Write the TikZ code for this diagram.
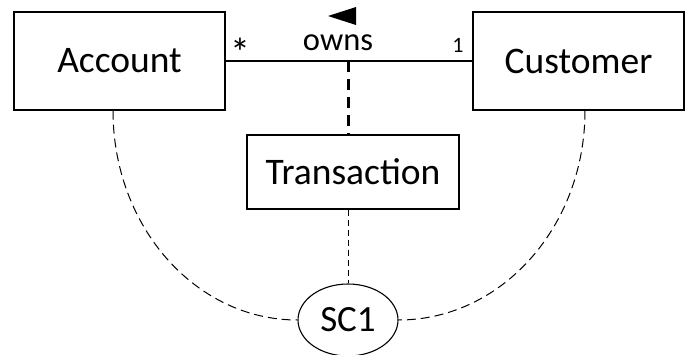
\documentclass[tikz,border=0pt]{standalone}
\usepackage{fontspec}
\setmainfont{Carlito}
\usetikzlibrary{shapes.geometric}

\tikzset{
  classbox/.style={draw, line width=1.3pt, inner sep=0pt,
    font=\fontsize{37.5}{42}\selectfont},
  constraint/.style={draw, ellipse, line width=1.1pt, inner sep=0pt,
    minimum width=100pt, minimum height=72pt,
    font=\fontsize{37}{42}\selectfont},
  assoc/.style={line width=1.2pt},
  linkdash/.style={line width=3pt, dash pattern=on 11pt off 7pt},
  thindash/.style={line width=1pt, dash pattern=on 6pt off 4pt},
  curvedash/.style={line width=1pt, dash pattern=on 9pt off 5pt},
  mult/.style={inner sep=0pt, font=\fontsize{22}{26}\selectfont},
  star/.style={inner sep=0pt, font=\fontsize{40}{44}\selectfont},
  rolename/.style={inner sep=0pt, font=\fontsize{32.5}{38}\selectfont}
}

\begin{document}
\begin{tikzpicture}[x=1pt, y=-1pt]
  \useasboundingbox (0,0) rectangle (686,354);

  % classes
  \node[classbox, minimum width=211pt, minimum height=98pt] (acc) at (119.5,61) {Account};
  \node[classbox, minimum width=211pt, minimum height=98pt] (cus) at (578.5,61) {Customer};
  \node[classbox, minimum width=212pt, minimum height=74pt] (tra) at (353,172) {Transaction};

  % constraint
  \node[constraint] (sc) at (348,320) {SC1};

  % association with its name, direction and multiplicities
  \draw[assoc] (acc.east) -- (cus.west);
  \node[rolename, anchor=base] (owns) at (338,50) {owns};
  \fill (328,16) -- (356,7) -- (356,25) -- cycle;
  \node[star, anchor=north] (many) at (240,38) {*};
  \node[mult] (one) at (458,45) {1};

  % association class link
  \coordinate (mid) at (348,61);
  \draw[linkdash] (mid) -- (mid |- tra.north);

  % constraint links
  \draw[thindash] (tra.south -| sc.north) -- (sc.north);
  \draw[curvedash] ([xshift=-6.5pt]acc.south) .. controls +(0,116) and +(-102,0) .. (sc.west);
  \draw[curvedash] ([xshift=6.5pt]cus.south) .. controls +(0,116) and +(103,0) .. (sc.east);
\end{tikzpicture}
\end{document}
